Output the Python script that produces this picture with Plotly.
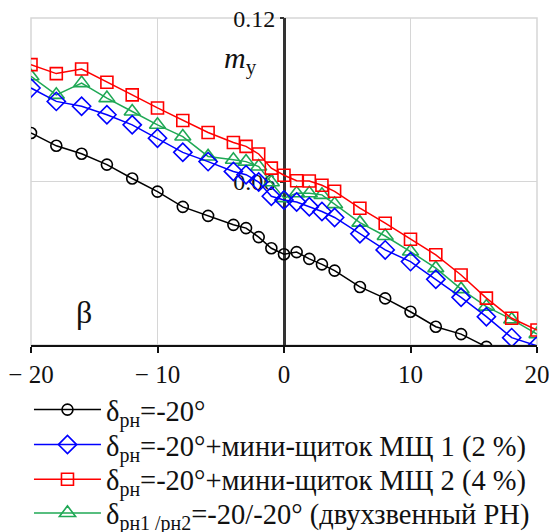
import plotly.graph_objects as go

beta = [-20, -18, -16, -14, -12, -10, -8, -6, -4, -3, -2, -1, 0, 1, 2, 3, 4, 6, 8, 10, 12, 14, 16, 18, 20]
beta_black = [-20, -18, -16, -14, -12, -10, -8, -6, -4, -3, -2, -1, 0, 1, 2, 3, 4, 6, 8, 10, 12, 14, 16]

my_base = [0.0778, 0.0731, 0.0702, 0.0662, 0.0611, 0.0563, 0.0507, 0.0474, 0.0441, 0.0429, 0.0396, 0.0355,
           0.0333, 0.0341, 0.0316, 0.0296, 0.0273, 0.0213, 0.0171, 0.0122, 0.0067, 0.0040, -0.0007]
my_msh1 = [0.0943, 0.0894, 0.0876, 0.0845, 0.0808, 0.0759, 0.0707, 0.0673, 0.0637, 0.0625, 0.0598, 0.0546,
           0.0532, 0.0525, 0.0507, 0.0490, 0.0468, 0.0408, 0.0349, 0.0306, 0.0241, 0.0175, 0.0104, 0.0027, -0.0003]
my_msh2 = [0.1029, 0.0996, 0.1013, 0.0964, 0.0918, 0.0870, 0.0824, 0.0780, 0.0743, 0.0729, 0.0701, 0.0649,
           0.0623, 0.0603, 0.0602, 0.0586, 0.0564, 0.0502, 0.0447, 0.0388, 0.0331, 0.0257, 0.0172, 0.0098, 0.0055]
my_two = [0.0986, 0.0918, 0.0961, 0.0906, 0.0857, 0.0808, 0.0765, 0.0692, 0.0680, 0.0673, 0.0655, 0.0597,
          0.0539, 0.0557, 0.0557, 0.0551, 0.0517, 0.0449, 0.0400, 0.0343, 0.0282, 0.0205, 0.0141, 0.0094, 0.0040]

names = [
    "δ<sub>рн</sub>=-20°",
    "δ<sub>рн</sub>=-20°+мини-щиток МЩ 1 (2 %)",
    "δ<sub>рн</sub>=-20°+мини-щиток МЩ 2 (4 %)",
    "δ<sub>рн1 /рн2</sub>=-20/-20° (двухзвенный РН)",
]

x_tickvals = [-20, -10, 0, 10, 20]
x_ticktext = ["− 20", "− 10", "0", "10", "20"]
y_tickvals = [0.06, 0.1199]
y_ticktext = ["0.06", "0.12"]

FONT = "Liberation Serif"
TXT = "#111111"
GRID = "#d6d6d6"

fig = go.Figure()
styles = [
    (beta_black, my_base, "#000000", "circle-open", 11, "legend"),
    (beta, my_msh1, "#0000ff", "diamond-open", 14, "legend2"),
    (beta, my_msh2, "#ff0000", "square-open", 12, "legend3"),
    (beta, my_two, "#1fa855", "triangle-up-open", 14, "legend4"),
]
traces = []
for (xs, ys, col, sym, sz, lg), nm in zip(styles, names):
    traces.append(go.Scatter(
        x=xs, y=ys, name=nm, mode="lines+markers", legend=lg,
        line=dict(color=col, width=1.5),
        marker=dict(symbol=sym, size=sz, color=col, line=dict(width=1.6, color=col)),
    ))
# drawing order: black, green, blue, red
for i in (0, 3, 1, 2):
    fig.add_trace(traces[i])

legend_rows_y = [-0.199, -0.306, -0.412, -0.515]


def leg(y):
    return dict(
        x=-0.004, y=y, xanchor="left", yanchor="middle",
        font=dict(family=FONT, size=28.5, color=TXT),
        itemwidth=67, bgcolor="rgba(0,0,0,0)", borderwidth=0,
    )


fig.update_layout(
    width=541, height=524,
    margin=dict(l=23, r=12, t=10, b=187, autoexpand=False),
    paper_bgcolor="white", plot_bgcolor="white",
    font=dict(family=FONT, size=21, color=TXT),
    showlegend=True,
    legend=leg(legend_rows_y[0]),
    legend2=leg(legend_rows_y[1]),
    legend3=leg(legend_rows_y[2]),
    legend4=leg(legend_rows_y[3]),
    xaxis=dict(
        range=[-20, 20], tickvals=x_tickvals, ticktext=x_ticktext,
        showgrid=True, gridcolor=GRID, gridwidth=1,
        zeroline=True, zerolinecolor="#333333", zerolinewidth=2.5,
        showline=True, linecolor="#111111", linewidth=2, mirror=False,
        ticks="outside", ticklen=6, tickwidth=2, tickcolor="#111111",
        tickfont=dict(family=FONT, size=25, color=TXT),
        ticklabeloverflow="allow",
        layer="below traces", automargin=False,
    ),
    yaxis=dict(
        range=[0, 0.12], tickvals=y_tickvals, ticktext=y_ticktext,
        showgrid=True, gridcolor=GRID, gridwidth=1,
        zeroline=False, showline=False,
        anchor="free", position=0.5,
        ticks="outside", ticklen=4, tickwidth=2, tickcolor="#333333",
        tickfont=dict(family=FONT, size=24, color=TXT),
        ticklabeloverflow="allow",
        layer="below traces", automargin=False,
    ),
    shapes=[dict(type="rect", xref="paper", yref="paper", x0=0, x1=1, y0=0, y1=1,
                 line=dict(color=GRID, width=1.5), layer="below")],
)

fig.add_annotation(x=-3.4, y=0.1045, text="<i>m</i><sub>y</sub>", showarrow=False,
                   font=dict(family=FONT, size=30, color=TXT))
fig.add_annotation(x=-15.8, y=0.012, text="β", showarrow=False,
                   font=dict(family=FONT, size=32, color=TXT))

fig.write_html("out.html")
